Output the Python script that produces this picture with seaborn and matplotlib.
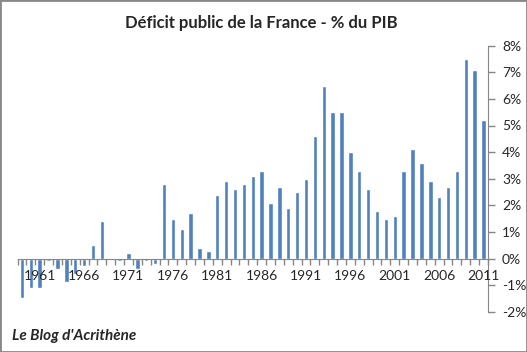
import matplotlib
matplotlib.use("Agg")
from matplotlib import pyplot as plt
from matplotlib.patches import Rectangle
from matplotlib.ticker import FixedLocator, FuncFormatter
import numpy as np
import pandas as pd
import seaborn as sns

# ------------------------------------------------------------
#     data (deficit in % of GDP, negative = surplus)
# ------------------------------------------------------------
years = list(range(1959, 2012))
deficit = [
    -1.5, -1.1, -1.1, -0.1, -0.4, -0.9, -0.6, -0.3, 0.5, 1.4,
    0.0, -0.1, 0.2, -0.4, -0.1, -0.2, 2.8, 1.5, 1.1, 1.7,
    0.4, 0.3, 2.4, 2.9, 2.6, 2.8, 3.1, 3.3, 2.1, 2.7,
    1.9, 2.5, 3.0, 4.6, 6.5, 5.5, 5.5, 4.0, 3.3, 2.6,
    1.8, 1.5, 1.6, 3.3, 4.1, 3.6, 2.9, 2.3, 2.7, 3.3,
    7.5, 7.1, 5.2,
]
label_years = [1961, 1966, 1971, 1976, 1981, 1986, 1991, 1996, 2001, 2006, 2011]
yticks = list(range(-2, 9))

df = pd.DataFrame({"year": years, "deficit": deficit})

# ------------------------------------------------------------
#     plot
# ------------------------------------------------------------
sns.set_style("white")
plt.rcParams["font.family"] = ["Lato", "DejaVu Sans"]

fig = plt.figure(figsize=(5.27, 3.52), dpi=100)
ax = fig.add_axes([17.5 / 527, 1 - 311.7 / 352, (488 - 17.5) / 527, (311.7 - 45.7) / 352])

sns.barplot(data=df, x="year", y="deficit", color="#4F81BD", saturation=1,
            width=0.5, ax=ax)

ax.set_xlim(-0.5, len(years) - 0.5)
ax.set_ylim(-2, 8)
ax.set_xlabel("")
ax.set_ylabel("")
# tick labels are drawn over the bars, as in excel
ax.set_axisbelow(False)

axis_col = "#868686"

# y axis on the right
ax.yaxis.tick_right()
ax.yaxis.set_major_locator(FixedLocator(yticks))
ax.yaxis.set_major_formatter(FuncFormatter(lambda v, p: "%d%%" % v))
ax.tick_params(axis="y", direction="out", length=5, width=1, color=axis_col,
               labelsize=10, pad=5, right=True, left=False)
for t in ax.get_yticklabels():
    t.set_horizontalalignment("left")

# x axis sits on the zero line
ax.spines["bottom"].set_position(("data", 0))
ax.spines["bottom"].set_color(axis_col)
ax.spines["right"].set_color(axis_col)
ax.spines["top"].set_visible(False)
ax.spines["left"].set_visible(False)

ax.set_xticks([years.index(y) for y in label_years])
ax.set_xticklabels([str(y) for y in label_years])
ax.set_xticks(np.arange(-0.5, len(years), 1.0), minor=True)
ax.tick_params(axis="x", which="major", length=0, labelsize=10, pad=8)
ax.tick_params(axis="x", which="minor", direction="out", length=4, width=1,
               color=axis_col, bottom=True)

fig.text(0.495, 0.935, "Déficit public de la France - % du PIB",
         ha="center", va="center", fontsize=12, fontweight="bold")
fig.text(0.023, 0.045, "Le Blog d'Acrithène", ha="left", va="center",
         fontsize=11, fontweight="bold", fontstyle="italic")

fig.patches.append(Rectangle((0, 0), 1, 1, transform=fig.transFigure,
                             fill=False, edgecolor="#888888", linewidth=2))

fig.savefig("out.png", dpi=100)
